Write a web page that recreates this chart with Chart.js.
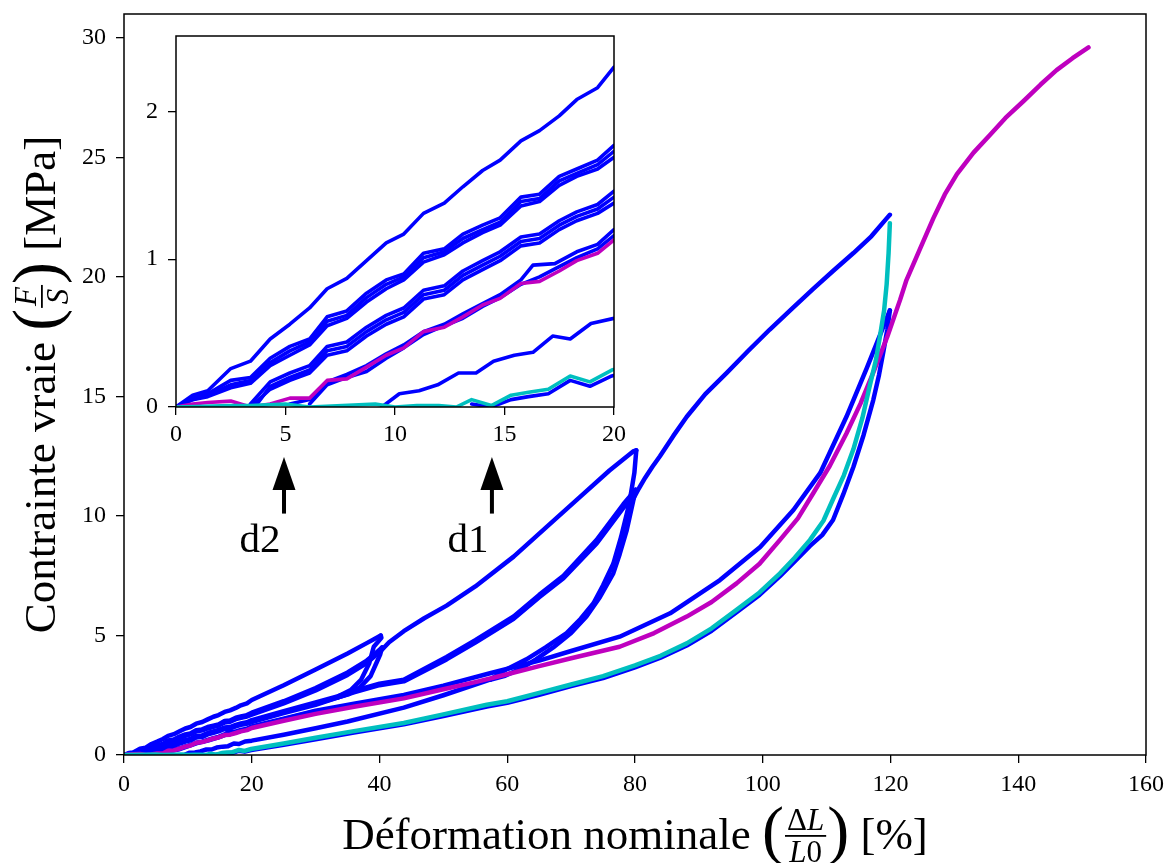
<!DOCTYPE html>
<html>
<head>
<meta charset="utf-8">
<script src="https://cdn.jsdelivr.net/npm/chart.js@4.4.1/dist/chart.umd.min.js"></script>
<style>
  body { margin: 0; background: #fff; }
  #wrap { position: relative; width: 1165px; height: 863px; }
  #mainChart { position: absolute; left: 0; top: 0; }
  #insetChart { position: absolute; left: 130px; top: 26px; }
</style>
</head>
<body>
<div id="wrap">
  <canvas id="mainChart" width="1165" height="863"></canvas>
  <canvas id="insetChart" width="500" height="425"></canvas>
</div>
<script>
// strain [%] / true stress [MPa], read branch by branch off the figure

// first loading to 40 %
const load40X = [0, 0.76, 1.45, 2.5, 3.4, 4.3, 5.2, 6.1, 6.9, 7.8, 8.7, 9.6, 10.4, 11.3, 12.25, 13.1, 14, 14.8, 15.75, 16.6, 17.5, 18.3, 19.25, 20, 25, 30, 35, 38, 40.2];
const load40Y = [0, 0.08, 0.11, 0.26, 0.31, 0.46, 0.56, 0.67, 0.80, 0.87, 0.99, 1.11, 1.17, 1.31, 1.38, 1.49, 1.60, 1.67, 1.80, 1.87, 1.97, 2.08, 2.16, 2.30, 2.92, 3.58, 4.25, 4.68, 5.0];
const drop40X = [40.2, 40.3, 39.1, 38.4, 37.1, 35.5, 33.4];
const drop40Y = [5.0, 4.9, 4.53, 3.84, 3.14, 2.72, 2.44];

// reloads to 40 %
const reloadAX = [0, 0.76, 1.45, 2.5, 3.4, 4.3, 5.2, 6.1, 6.9, 7.8, 8.7, 9.6, 10.4, 11.3, 12.25, 13.1, 14, 14.8, 15.75, 16.6, 17.5, 18.3, 19.25, 20, 25, 30, 35, 38, 40.2];
const reloadAY = [0, 0.06, 0.09, 0.18, 0.20, 0.33, 0.41, 0.46, 0.61, 0.65, 0.77, 0.86, 0.90, 1.04, 1.07, 1.17, 1.23, 1.28, 1.42, 1.44, 1.56, 1.61, 1.67, 1.77, 2.25, 2.80, 3.45, 3.95, 4.42];
const reloadBX = [0, 0.76, 1.45, 2.5, 3.4, 4.3, 5.2, 6.1, 6.9, 7.8, 8.7, 9.6, 10.4, 11.3, 12.25, 13.1, 14, 14.8, 15.75, 16.6, 17.5, 18.3, 19.25, 20, 25, 30, 35, 38, 40.4];
const reloadBY = [0, 0.05, 0.08, 0.15, 0.18, 0.30, 0.38, 0.44, 0.58, 0.62, 0.74, 0.83, 0.88, 1.01, 1.05, 1.14, 1.20, 1.25, 1.39, 1.41, 1.53, 1.58, 1.64, 1.73, 2.20, 2.75, 3.40, 3.90, 4.50];
const drop40bX = [40.4, 40.1, 39.6, 38.6, 37, 35.2, 33.4];
const drop40bY = [4.5, 4.2, 3.9, 3.3, 2.85, 2.55, 2.4];
const back40X = [3.4, 4.3, 5.2, 6.1, 6.9, 7.8, 8.7, 9.6, 10.4, 11.3, 12.25, 13.1, 14, 14.8, 15.75, 16.6, 17.5, 18.3, 19.25, 20, 25, 30, 33.4];
const back40Y = [0, 0.12, 0.18, 0.23, 0.35, 0.38, 0.48, 0.56, 0.61, 0.73, 0.76, 0.86, 0.93, 0.99, 1.09, 1.11, 1.20, 1.26, 1.31, 1.38, 1.75, 2.10, 2.40];

// third reload going on to 80 %, then unloading
const load80X = [0, 0.76, 1.45, 2.5, 3.4, 4.3, 5.2, 6.1, 6.9, 7.8, 8.7, 9.6, 10.4, 11.3, 12.25, 13.1, 14, 14.8, 15.75, 16.6, 17.5, 18.3, 19.25, 20, 25, 30, 35, 38, 40.2, 41.5, 43.8, 47, 50.5, 55, 61, 66, 71.4, 76, 79.7, 80.2];
const load80Y = [0, 0.05, 0.07, 0.13, 0.16, 0.28, 0.35, 0.42, 0.55, 0.60, 0.71, 0.80, 0.86, 0.98, 1.03, 1.11, 1.18, 1.23, 1.36, 1.39, 1.50, 1.56, 1.61, 1.69, 2.16, 2.70, 3.35, 3.85, 4.35, 4.72, 5.18, 5.72, 6.25, 7.05, 8.3, 9.5, 10.8, 11.9, 12.7, 12.75];
const drop80X = [80.2, 79.9, 79.4, 79, 77.8, 76.6, 75, 73.5, 71.5, 69.3, 66, 63, 60, 57.3];
const drop80Y = [12.75, 11.8, 11.0, 10.4, 9.1, 8.0, 7.1, 6.35, 5.7, 5.1, 4.5, 4.0, 3.6, 3.15];

// reloads to 80 %
const reload80X = [3.4, 4.3, 5.2, 6.1, 6.9, 7.8, 8.7, 9.6, 10.4, 11.3, 12.25, 13.1, 14, 14.8, 15.75, 16.6, 17.5, 18.3, 19.25, 20, 25, 30, 33.4, 36, 40, 43.8, 50.5, 55, 61, 65, 68.8, 74, 78.2, 80.1];
const reload80Y = [0.02, 0.17, 0.23, 0.28, 0.41, 0.44, 0.54, 0.62, 0.67, 0.79, 0.82, 0.92, 0.99, 1.05, 1.15, 1.17, 1.26, 1.32, 1.37, 1.46, 1.83, 2.20, 2.45, 2.68, 2.98, 3.15, 4.10, 4.80, 5.80, 6.70, 7.50, 9.00, 10.50, 11.10];
const drop80bX = [80.1, 79.7, 78.7, 77.6, 76.6, 74.5, 72.4, 70, 67.2, 64.5, 62, 59.5, 57.3];
const drop80bY = [11.1, 10.6, 9.4, 8.4, 7.6, 6.6, 5.8, 5.1, 4.5, 4.0, 3.6, 3.3, 3.15];
const back80X = [57.3, 50, 43.8, 35, 30, 25, 20, 18.95, 18, 17.2, 16.3, 15.45, 14.5, 13.7, 12.9, 11.95, 11.1, 10.2, 9.4];
const back80Y = [3.15, 2.5, 1.98, 1.4, 1.12, 0.85, 0.60, 0.565, 0.46, 0.48, 0.37, 0.35, 0.31, 0.23, 0.23, 0.15, 0.11, 0.09, 0];

// loading on to 120 %
const load120X = [3.6, 4.3, 5.2, 6.1, 6.9, 7.8, 8.7, 9.6, 10.4, 11.3, 12.25, 13.1, 14, 14.8, 15.75, 16.6, 17.5, 18.3, 19.25, 20, 25, 30, 33.4, 36, 40, 43.8, 50.5, 55, 61, 65, 68.8, 74, 78.2, 79.7, 80.6, 81.6, 82.7, 83.9, 86, 88.1, 91, 94.4, 97.7, 101.1, 104.5, 107.9, 111, 114.2, 117, 119.4, 119.9];
const load120Y = [0, 0.14, 0.20, 0.25, 0.38, 0.41, 0.51, 0.59, 0.64, 0.76, 0.79, 0.89, 0.96, 1.02, 1.12, 1.14, 1.23, 1.29, 1.34, 1.42, 1.78, 2.14, 2.40, 2.62, 2.92, 3.08, 4.0, 4.7, 5.7, 6.6, 7.4, 8.85, 10.35, 10.7, 11.15, 11.6, 12.05, 12.5, 13.35, 14.15, 15.1, 16.0, 16.9, 17.8, 18.65, 19.5, 20.25, 21.0, 21.7, 22.45, 22.6];

// reloads to 120 % and the unloading under the cyan test
const reload120X = [5.2, 6.1, 6.9, 7.8, 8.7, 9.6, 10.4, 11.3, 12.25, 13.1, 14, 14.8, 15.75, 16.3, 17.3, 18.3, 19.25, 20, 25, 30, 36, 43.8, 50, 57.3, 65, 70, 77.6, 85.5, 93.3, 99.6, 104.8, 109, 113.1, 116.3, 118.4, 119.9];
const reload120Y = [0.02, 0.05, 0.17, 0.22, 0.28, 0.36, 0.42, 0.51, 0.56, 0.63, 0.70, 0.76, 0.86, 0.96, 0.97, 1.05, 1.10, 1.20, 1.52, 1.85, 2.15, 2.51, 2.9, 3.42, 3.95, 4.35, 4.95, 5.93, 7.32, 8.7, 10.25, 11.8, 14.15, 16.2, 17.6, 18.6];
const reload120bX = [6.1, 6.9, 7.8, 8.7, 9.6, 10.4, 11.3, 12.25, 13.1, 14, 14.8, 15.75, 16.6, 17.5, 18.3, 19.25, 20, 25, 30];
const reload120bY = [0.02, 0.15, 0.20, 0.24, 0.33, 0.40, 0.49, 0.55, 0.60, 0.68, 0.74, 0.83, 0.88, 0.95, 1.01, 1.07, 1.16, 1.50, 1.83];
const drop120X = [119.9, 119.5, 118.9, 118.2, 117.3, 115.8, 114.2, 112.6, 111, 109.3, 107.4, 105, 102.7, 99.5, 95.9, 92, 88.1, 84, 80, 75, 70, 65, 60, 56.8, 50, 43.8, 36, 30, 25, 19.9, 18.9, 18, 17, 16.1, 15.3, 14.4, 13.5];
const drop120Y = [18.6, 17.8, 16.9, 15.9, 14.85, 13.4, 12.06, 10.9, 9.83, 9.2, 8.75, 8.1, 7.48, 6.7, 5.97, 5.2, 4.58, 4.07, 3.67, 3.22, 2.88, 2.52, 2.18, 2.03, 1.63, 1.28, 0.94, 0.66, 0.43, 0.21, 0.14, 0.18, 0.09, 0.07, 0.05, 0, 0.02];

// monotonic test (magenta)
const magentaX = [0, 0.76, 1.45, 2.5, 3.4, 4.3, 5.2, 6.1, 6.9, 7.8, 8.7, 9.6, 10.4, 11.3, 12.25, 13.1, 14, 14.8, 15.75, 16.6, 17.5, 18.3, 19.25, 20, 25, 30, 36, 43.8, 50, 55, 60, 65, 70, 77.6, 83, 88.1, 92, 95.9, 99.5, 102.7, 105.5, 107.9, 110.5, 113.1, 115.3, 117.3, 119.5, 121.5, 122.5, 124.5, 126.7, 128.5, 130.4, 133, 135.6, 138, 140.8, 143.5, 146, 148.5, 151];
const magentaY = [0, 0.02, 0.03, 0.04, 0, 0.02, 0.06, 0.06, 0.18, 0.19, 0.27, 0.35, 0.40, 0.51, 0.54, 0.61, 0.69, 0.735, 0.835, 0.85, 0.92, 0.99, 1.04, 1.13, 1.43, 1.72, 2.02, 2.37, 2.75, 3.05, 3.38, 3.72, 4.05, 4.53, 5.1, 5.79, 6.4, 7.18, 8.0, 9.0, 9.9, 10.95, 12.1, 13.45, 14.7, 16.0, 17.5, 19.04, 19.87, 21.1, 22.45, 23.45, 24.3, 25.2, 25.95, 26.65, 27.35, 28.05, 28.65, 29.15, 29.6];

// cyan test
const cyanX = [0, 2.5, 3.4, 5.0, 6.1, 9.1, 10, 11, 12, 12.8, 13.5, 14.4, 15.3, 16.1, 17, 18, 18.9, 19.9, 25, 30, 36, 43.8, 50, 56.8, 60, 65, 70, 75, 80, 84, 88.1, 92, 95.9, 99.5, 102.7, 105, 107.4, 109.5, 111, 112.7, 114.2, 115.6, 116.8, 117.7, 118.4, 119, 119.4, 119.7, 119.9];
const cyanY = [0, 0.01, 0.01, 0.02, 0, 0.02, 0, 0.01, 0.01, 0, 0.05, 0.01, 0.08, 0.10, 0.12, 0.21, 0.17, 0.25, 0.48, 0.72, 1.0, 1.34, 1.7, 2.1, 2.25, 2.6, 2.95, 3.3, 3.75, 4.15, 4.67, 5.3, 6.07, 6.8, 7.6, 8.25, 9.0, 9.8, 10.7, 11.7, 12.8, 14.1, 15.5, 16.5, 17.6, 18.6, 19.7, 21.0, 22.25];

// arrows d2 / d1 (main axes units)
const annotX = [25.05, 57.6];
const annotLabel = ['d2', 'd1'];
const arrowTipY = 12.47;
const arrowTailY = 10.1;
const labelY = 8.5;

const blue = '#0000ff', magenta = '#bf00bf', cyan = '#00bfbf';
const serif = "'Liberation Serif', 'Times New Roman', serif";

function pts(xs, ys) {
  return xs.map((x, i) => ({ x: x, y: ys[i] }));
}

function makeDatasets(w) {
  const line = (xs, ys, color) => ({
    data: pts(xs, ys),
    showLine: true,
    borderColor: color,
    backgroundColor: color,
    borderWidth: w,
    pointRadius: 0,
    fill: false,
    borderCapStyle: 'round',
    borderJoinStyle: 'round'
  });
  // first dataset is drawn on top
  return [
    line(cyanX, cyanY, cyan),
    line(magentaX, magentaY, magenta),
    line(load40X, load40Y, blue),
    line(drop40X, drop40Y, blue),
    line(reloadAX, reloadAY, blue),
    line(reloadBX, reloadBY, blue),
    line(drop40bX, drop40bY, blue),
    line(back40X, back40Y, blue),
    line(load80X, load80Y, blue),
    line(drop80X, drop80Y, blue),
    line(reload80X, reload80Y, blue),
    line(drop80bX, drop80bY, blue),
    line(back80X, back80Y, blue),
    line(load120X, load120Y, blue),
    line(reload120X, reload120Y, blue),
    line(reload120bX, reload120bY, blue),
    line(drop120X, drop120Y, blue)
  ];
}

function axisStyle(min, max, step, tickLen, size, pad, horizontal, fixed) {
  return {
    type: 'linear',
    min: min,
    max: max,
    ticks: { stepSize: step, includeBounds: false, color: '#000', padding: pad, maxRotation: 0,
             font: { family: serif, size: size } },
    grid: { drawOnChartArea: false, tickLength: tickLen, color: '#000', lineWidth: 1.3 },
    border: { display: false },
    // pin the axis box so the plot area lands where the figure has it
    afterFit(s) {
      if (horizontal) s.height = fixed; else s.width = fixed;
      s.paddingTop = 0; s.paddingBottom = 0; s.paddingLeft = 0; s.paddingRight = 0;
    }
  };
}

function runsWidth(ctx, runs) {
  let w = 0;
  for (const r of runs) { ctx.font = r[1]; w += ctx.measureText(r[0]).width; }
  return w;
}
function drawRuns(ctx, runs, x, y) {
  for (const r of runs) { ctx.font = r[1]; ctx.fillText(r[0], x, y); x += ctx.measureText(r[0]).width; }
}

// title with a small fraction inside big parentheses
function drawTitle(ctx, cx, base, pre, num, den, post) {
  const F = '45px ' + serif, P = '66px ' + serif;
  ctx.fillStyle = '#000';
  ctx.textAlign = 'left';
  ctx.textBaseline = 'alphabetic';
  ctx.font = F;
  const wPre = ctx.measureText(pre).width, wPost = ctx.measureText(post).width;
  ctx.font = P;
  const wPar = ctx.measureText('(').width;
  const wNum = runsWidth(ctx, num), wDen = runsWidth(ctx, den);
  const wFrac = Math.max(wNum, wDen) + 6;
  let x = cx - (wPre + 2 * wPar + wFrac + wPost) / 2;
  ctx.font = F; ctx.fillText(pre, x, base); x += wPre;
  ctx.font = P; ctx.fillText('(', x, base + 3); x += wPar;
  const axis = base - 13;
  drawRuns(ctx, num, x + (wFrac - wNum) / 2, axis - 6);
  drawRuns(ctx, den, x + (wFrac - wDen) / 2, axis + 26);
  ctx.fillRect(x + 1, axis - 1, wFrac - 2, 1.8);
  x += wFrac;
  ctx.font = P; ctx.fillText(')', x, base + 3); x += wPar;
  ctx.font = F; ctx.fillText(post, x, base);
}

const frame = {
  id: 'frame',
  beforeDraw(chart) {
    const a = chart.chartArea, ctx = chart.ctx;
    ctx.save();
    ctx.fillStyle = '#fff';
    ctx.fillRect(a.left, a.top, a.right - a.left, a.bottom - a.top);
    ctx.restore();
  },
  afterDraw(chart) {
    const a = chart.chartArea, ctx = chart.ctx;
    ctx.save();
    ctx.strokeStyle = '#000';
    ctx.lineWidth = 1.5;
    ctx.strokeRect(a.left, a.top, a.right - a.left, a.bottom - a.top);
    ctx.restore();
  }
};

const mainExtras = {
  id: 'mainExtras',
  afterDraw(chart) {
    const ctx = chart.ctx, a = chart.chartArea;
    const xs = chart.scales.x, ys = chart.scales.y;
    ctx.save();
    const fr = '31px ' + serif, fi = 'italic 31px ' + serif;
    drawTitle(ctx, (a.left + a.right) / 2, 849, 'Déformation nominale ',
      [['Δ', fr], ['L', fi]], [['L', fi], ['0', fr]], ' [%]');
    ctx.save();
    ctx.translate(55, (a.top + a.bottom) / 2);
    ctx.rotate(-Math.PI / 2);
    drawTitle(ctx, 0, 0, 'Contrainte vraie ', [['F', fi]], [['S', fi]], ' [MPa]');
    ctx.restore();

    // arrows
    ctx.fillStyle = '#000';
    annotX.forEach((ax, i) => {
      const px = xs.getPixelForValue(ax);
      const tip = ys.getPixelForValue(arrowTipY), tail = ys.getPixelForValue(arrowTailY);
      ctx.fillRect(px - 2, tip + 30, 4, tail - tip - 30);
      ctx.beginPath();
      ctx.moveTo(px, tip);
      ctx.lineTo(px - 11.5, tip + 33);
      ctx.lineTo(px + 11.5, tip + 33);
      ctx.closePath();
      ctx.fill();
      ctx.font = '41px ' + serif;
      ctx.textAlign = 'center';
      ctx.textBaseline = 'alphabetic';
      ctx.fillText(annotLabel[i], px - 24, ys.getPixelForValue(labelY));
    });
    ctx.restore();
  }
};

new Chart(document.getElementById('mainChart'), {
  type: 'scatter',
  data: { datasets: makeDatasets(4.5) },
  options: {
    responsive: false,
    animation: false,
    layout: { padding: { top: 14, right: 19, left: 0, bottom: 0 } },
    plugins: { legend: { display: false }, tooltip: { enabled: false } },
    scales: {
      x: axisStyle(0, 160, 20, 8, 24, 7, true, 108),
      y: axisStyle(0, 31, 5, 8, 24, 10, false, 124)
    }
  },
  plugins: [frame, mainExtras]
});

new Chart(document.getElementById('insetChart'), {
  type: 'scatter',
  data: { datasets: makeDatasets(3.6) },
  options: {
    responsive: false,
    animation: false,
    layout: { padding: { top: 10, right: 16, left: 0, bottom: 0 } },
    plugins: { legend: { display: false }, tooltip: { enabled: false } },
    scales: {
      x: axisStyle(0, 20, 5, 8, 24, 5, true, 44),
      y: axisStyle(0, 2.51, 1, 8, 24, 10, false, 46)
    }
  },
  plugins: [frame]
});
</script>
</body>
</html>
